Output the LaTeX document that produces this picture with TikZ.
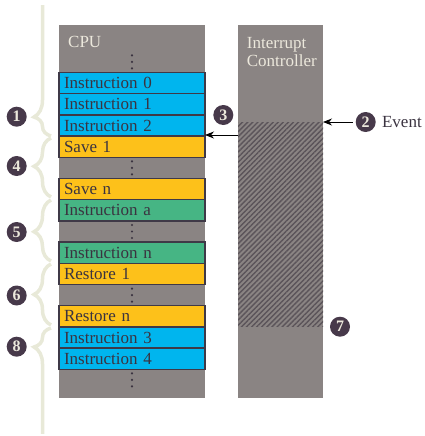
\documentclass[tikz,border=0pt]{standalone}
\usepackage{fontspec}
\setmainfont{Liberation Serif}
\usetikzlibrary{positioning,decorations.pathreplacing,patterns.meta,arrows.meta}

\definecolor{colgray}{HTML}{8A8483}
\definecolor{hatchc}{HTML}{5B545A}
\definecolor{instblue}{HTML}{00B5EE}
\definecolor{saveyel}{HTML}{FDC11A}
\definecolor{handgreen}{HTML}{46B584}
\definecolor{edge}{HTML}{3F3947}
\definecolor{ink}{HTML}{3A3340}
\definecolor{numc}{HTML}{47394A}
\definecolor{pale}{HTML}{ECE8DC}
\definecolor{bracec}{HTML}{E8E9D8}

\tikzset{
  colbox/.style={fill=colgray, anchor=north west, inner sep=0pt, outer sep=0pt},
  rowbox/.style={draw=edge, line width=1.4pt, text=ink, minimum height=21.2pt,
    text width=136pt, inner xsep=5pt, inner ysep=0pt, outer sep=0pt,
    align=left, text height=11pt, text depth=0pt},
  gapbox/.style={minimum height=21.2pt, minimum width=146pt, inner sep=0pt, outer sep=0pt},
  numdot/.style={circle, fill=numc, text=pale, minimum size=20pt, inner sep=0pt,
    font=\fontsize{16}{16}\selectfont\bfseries},
  headtxt/.style={text=pale, inner sep=0pt},
  arr/.style={-{Stealth[length=9pt,width=7pt]}, line width=0.9pt, black},
  brc/.style={decorate, decoration={brace, amplitude=17pt, aspect=#1},
    draw=bracec, line width=3.5pt}
}

\begin{document}
\begin{tikzpicture}[x=1pt,y=-1pt,every node/.style={font=\fontsize{17}{18}\selectfont}]
\useasboundingbox (0,0) rectangle (424,436);

% columns
\node[colbox, minimum width=146pt, minimum height=373pt] (cpu) at (59,25) {};
\node[colbox, minimum width=85pt, minimum height=373pt] (ic) at (238,25) {};
\path[pattern={Lines[angle=45,distance=3.6pt,line width=1.4pt]}, pattern color=hatchc]
  (238,122) rectangle (323,326.7);

\node[headtxt, anchor=west] (cpuname) at (68,42) {CPU};
\node[headtxt, anchor=north west, align=left] (icname) at (246.7,36.7) {Interrupt\\Controller};

% instruction stream
\node[gapbox] (g0) at (132,61.9) {};
\node[rowbox, fill=instblue, below=0pt of g0] (i0) {Instruction 0};
\node[rowbox, fill=instblue, below=0pt of i0] (i1) {Instruction 1};
\node[rowbox, fill=instblue, below=0pt of i1] (i2) {Instruction 2};
\node[rowbox, fill=saveyel, below=0pt of i2] (s1) {Save 1};
\node[gapbox, below=0pt of s1] (g1) {};
\node[rowbox, fill=saveyel, below=0pt of g1] (sn) {Save n};
\node[rowbox, fill=handgreen, below=0pt of sn] (ha) {Instruction a};
\node[gapbox, below=0pt of ha] (g2) {};
\node[rowbox, fill=handgreen, below=0pt of g2] (hn) {Instruction n};
\node[rowbox, fill=saveyel, below=0pt of hn] (r1) {Restore 1};
\node[gapbox, below=0pt of r1] (g3) {};
\node[rowbox, fill=saveyel, below=0pt of g3] (rn) {Restore n};
\node[rowbox, fill=instblue, below=0pt of rn] (i3) {Instruction 3};
\node[rowbox, fill=instblue, below=0pt of i3] (i4) {Instruction 4};
\node[gapbox, below=0pt of i4] (g4) {};

\foreach \g in {g0,g1,g2,g3,g4}
  \foreach \d in {-6.5,0,6.5}
    \fill[ink] ([yshift=\d pt]\g.center) circle (1.2pt);

% braces on the left
\begin{scope}
  \clip (0,6) rectangle (60,433);
  \draw[brc=0.13] (51,136) -- (51,-10);
  \draw[brc=0.52] (51,197) -- (51,138);
  \draw[brc=0.48] (51,261) -- (51,200);
  \draw[brc=0.5] (51,325) -- (51,264);
  \draw[brc=0.844] (51,450) -- (51,328);
\end{scope}

% step numbers
\node[numdot] (n1) at (16.7,116.7) {1};
\node[numdot] (n4) at (16.7,166) {4};
\node[numdot] (n5) at (16.7,232) {5};
\node[numdot] (n6) at (16.7,295.5) {6};
\node[numdot] (n8) at (16.7,346.7) {8};
\node[numdot] (n3) at (223.3,115) {3};
\node[numdot] (n2) at (365.7,122) {2};
\node[numdot] (n7) at (340,326.7) {7};
\node[text=ink, inner sep=5pt, right=1pt of n2] (event) {Event};

% signals
\coordinate (irq) at (0,135);
\draw[arr] (ic.west |- irq) -- (cpu.east |- irq);
\draw[arr, shorten <=3pt] (n2) -- (ic.east |- n2);
\end{tikzpicture}
\end{document}
